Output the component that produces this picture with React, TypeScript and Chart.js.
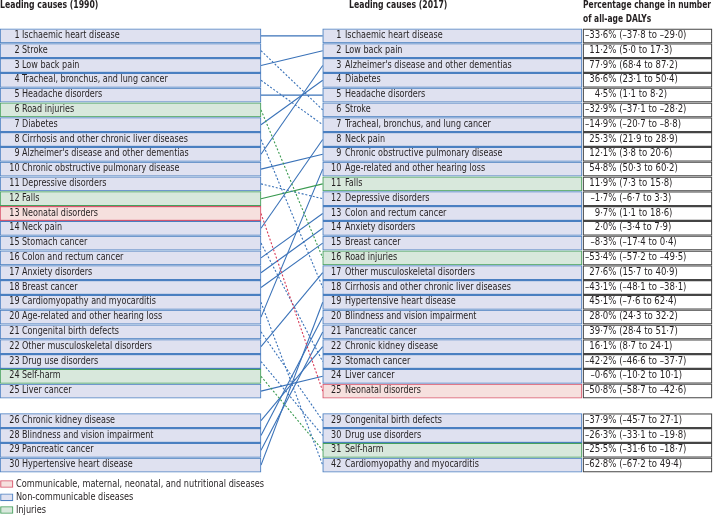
import React, { useEffect, useRef } from "react";
import { Chart, registerables } from "chart.js";

Chart.register(...registerables);

// ---------------- data ----------------
const causes1990 = [
  "Ischaemic heart disease",
  "Stroke",
  "Low back pain",
  "Tracheal, bronchus, and lung cancer",
  "Headache disorders",
  "Road injuries",
  "Diabetes",
  "Cirrhosis and other chronic liver diseases",
  "Alzheimer's disease and other dementias",
  "Chronic obstructive pulmonary disease",
  "Depressive disorders",
  "Falls",
  "Neonatal disorders",
  "Neck pain",
  "Stomach cancer",
  "Colon and rectum cancer",
  "Anxiety disorders",
  "Breast cancer",
  "Cardiomyopathy and myocarditis",
  "Age-related and other hearing loss",
  "Congenital birth defects",
  "Other musculoskeletal disorders",
  "Drug use disorders",
  "Self-harm",
  "Liver cancer",
  "Chronic kidney disease",
  "Blindness and vision impairment",
  "Pancreatic cancer",
  "Hypertensive heart disease",
];
const ranks1990 = [
  1, 2, 3, 4, 5, 6, 7, 8, 9, 10, 11, 12, 13, 14, 15, 16, 17, 18, 19, 20, 21,
  22, 23, 24, 25, 26, 28, 29, 30,
];

const causes2017 = [
  "Ischaemic heart disease",
  "Low back pain",
  "Alzheimer's disease and other dementias",
  "Diabetes",
  "Headache disorders",
  "Stroke",
  "Tracheal, bronchus, and lung cancer",
  "Neck pain",
  "Chronic obstructive pulmonary disease",
  "Age-related and other hearing loss",
  "Falls",
  "Depressive disorders",
  "Colon and rectum cancer",
  "Anxiety disorders",
  "Breast cancer",
  "Road injuries",
  "Other musculoskeletal disorders",
  "Cirrhosis and other chronic liver diseases",
  "Hypertensive heart disease",
  "Blindness and vision impairment",
  "Pancreatic cancer",
  "Chronic kidney disease",
  "Stomach cancer",
  "Liver cancer",
  "Neonatal disorders",
  "Congenital birth defects",
  "Drug use disorders",
  "Self-harm",
  "Cardiomyopathy and myocarditis",
];
const ranks2017 = [
  1, 2, 3, 4, 5, 6, 7, 8, 9, 10, 11, 12, 13, 14, 15, 16, 17, 18, 19, 20, 21,
  22, 23, 24, 25, 29, 30, 31, 42,
];

const pctChange = [
  "–33·6% (–37·8 to –29·0)",
  "11·2% (5·0 to 17·3)",
  "77·9% (68·4 to 87·2)",
  "36·6% (23·1 to 50·4)",
  "4·5% (1·1 to 8·2)",
  "–32·9% (–37·1 to –28·2)",
  "–14·9% (–20·7 to –8·8)",
  "25·3% (21·9 to 28·9)",
  "12·1% (3·8 to 20·6)",
  "54·8% (50·3 to 60·2)",
  "11·9% (7·3 to 15·8)",
  "–1·7% (–6·7 to 3·3)",
  "9·7% (1·1 to 18·6)",
  "2·0% (–3·4 to 7·9)",
  "–8·3% (–17·4 to 0·4)",
  "–53·4% (–57·2 to –49·5)",
  "27·6% (15·7 to 40·9)",
  "–43·1% (–48·1 to –38·1)",
  "45·1% (–7·6 to 62·4)",
  "28·0% (24·3 to 32·2)",
  "39·7% (28·4 to 51·7)",
  "16·1% (8·7 to 24·1)",
  "–42·2% (–46·6 to –37·7)",
  "–0·6% (–10·2 to 10·1)",
  "–50·8% (–58·7 to –42·6)",
  "–37·9% (–45·7 to 27·1)",
  "–26·3% (–33·1 to –19·8)",
  "–25·5% (–31·6 to –18·7)",
  "–62·8% (–67·2 to 49·4)",
];

const communicableCauses = ["Neonatal disorders"];
const injuryCauses = ["Road injuries", "Falls", "Self-harm"];

const legendLabels = [
  "Communicable, maternal, neonatal, and nutritional diseases",
  "Non-communicable diseases",
  "Injuries",
];
const legendGroups = ["cmnn", "ncd", "inj"];

const header1990 = "Leading causes (1990)";
const header2017 = "Leading causes (2017)";
const headerPct = ["Percentage change in number", "of all-age DALYs"];

// ---------------- layout / style ----------------
const W = 713;
const H = 517;
const ROW_PITCH = 14.8;
const ROW0 = 35.9; // pixel centre of first row
const TEXT_DY = -0.5;
const COL1 = [0, 261];
const COL2 = [322.7, 582];
const COL3 = [583, 712];
const BOX_H = 14.2;
const FONT = "'Liberation Sans Narrow', 'Arial Narrow', 'DejaVu Sans Condensed', sans-serif";
const TEXT_COLOR = "#231f20";
const SX_NAME = 0.895;
const SX_PCT = 0.95;
const SX_LEGEND = 0.91;
const SX_HEAD = 0.86;
const PCT_HEAD_WIDTH = 128;

const palette: Record<string, { fill: string; border: string; line: string }> = {
  cmnn: { fill: "#f6e0de", border: "#d9546b", line: "#d83a57" },
  ncd: { fill: "#dfe1f0", border: "#4a7fc1", line: "#3a72b8" },
  inj: { fill: "#d8e8dc", border: "#46a05d", line: "#3a9a50" },
};

const groupOf = (c: string) =>
  communicableCauses.includes(c) ? "cmnn" : injuryCauses.includes(c) ? "inj" : "ncd";
// list index -> row slot (one blank slot after the 25th row)
const slotOf = (i: number) => (i < 25 ? i : i + 1);
const pxToSlot = (px: number) => (px - ROW0) / ROW_PITCH;

function drawText(
  ctx: CanvasRenderingContext2D,
  text: string,
  x: number,
  y: number,
  align: CanvasTextAlign,
  sx: number
) {
  ctx.save();
  ctx.translate(x, y);
  ctx.scale(sx, 1);
  ctx.textAlign = align;
  ctx.fillText(text, 0, 0);
  ctx.restore();
}

export default function App() {
  const ref = useRef<HTMLCanvasElement | null>(null);

  useEffect(() => {
    document.body.style.margin = "0";
    const canvas = ref.current;
    if (!canvas) return;

    const barBase = {
      type: "bar" as const,
      indexAxis: "y" as const,
      borderSkipped: false,
      barThickness: BOX_H,
      grouped: false,
      order: 1,
    };
    const leftBars = {
      ...barBase,
      data: causes1990.map((c, i) => ({ x: [COL1[0], COL1[1]], y: slotOf(i) })),
      backgroundColor: causes1990.map((c) => palette[groupOf(c)].fill),
      borderColor: causes1990.map((c) => palette[groupOf(c)].border),
      borderWidth: 1.1,
    };
    const midBars = {
      ...barBase,
      data: causes2017.map((c, i) => ({ x: [COL2[0], COL2[1]], y: slotOf(i) })),
      backgroundColor: causes2017.map((c) => palette[groupOf(c)].fill),
      borderColor: causes2017.map((c) => palette[groupOf(c)].border),
      borderWidth: 1.1,
    };
    const rightBars = {
      ...barBase,
      data: pctChange.map((p, i) => ({ x: [COL3[0], COL3[1]], y: slotOf(i) })),
      backgroundColor: "#ffffff",
      borderColor: "#454545",
      borderWidth: 1.2,
    };
    const legendSlots = [pxToSlot(484), pxToSlot(497.3), pxToSlot(510)];
    const legendBars = {
      ...barBase,
      data: legendLabels.map((l, i) => ({ x: [0.5, 13], y: legendSlots[i] })),
      backgroundColor: legendGroups.map((g) => palette[g].fill),
      borderColor: legendGroups.map((g) => palette[g].border),
      borderWidth: 1.1,
      barThickness: 7,
    };

    const lineSets = causes1990.map((c, i) => {
      const j = causes2017.indexOf(c);
      const fell = ranks2017[j] > ranks1990[i];
      return {
        type: "line" as const,
        indexAxis: "x" as const,
        data: [
          { x: COL1[1], y: slotOf(i) },
          { x: COL2[0], y: slotOf(j) },
        ],
        borderColor: palette[groupOf(c)].line,
        borderWidth: 1.1,
        borderDash: fell ? [2, 1.8] : [],
        pointRadius: 0,
        fill: false,
        tension: 0,
        order: 2,
      };
    });

    const textPlugin = {
      id: "rankText",
      afterDatasetsDraw(chart: any) {
        const { ctx } = chart;
        const xs = chart.scales.x;
        const ys = chart.scales.y;
        ctx.save();
        ctx.fillStyle = TEXT_COLOR;
        ctx.textBaseline = "middle";
        ctx.font = `10px ${FONT}`;

        causes1990.forEach((c, i) => {
          const y = ys.getPixelForValue(slotOf(i)) + TEXT_DY;
          drawText(ctx, String(ranks1990[i]), xs.getPixelForValue(19.6), y, "right", SX_NAME);
          drawText(ctx, c, xs.getPixelForValue(22), y, "left", SX_NAME);
        });
        causes2017.forEach((c, i) => {
          const y = ys.getPixelForValue(slotOf(i)) + TEXT_DY;
          drawText(ctx, String(ranks2017[i]), xs.getPixelForValue(341.3), y, "right", SX_NAME);
          drawText(ctx, c, xs.getPixelForValue(345), y, "left", SX_NAME);
        });
        const firstEnd = COL3[0] + 2 + ctx.measureText("–33·6%").width * SX_PCT;
        pctChange.forEach((p, i) => {
          const y = ys.getPixelForValue(slotOf(i)) + TEXT_DY;
          const k = p.indexOf(" ");
          drawText(ctx, p.slice(0, k), xs.getPixelForValue(firstEnd), y, "right", SX_PCT);
          drawText(ctx, p.slice(k), xs.getPixelForValue(firstEnd), y, "left", SX_PCT);
        });

        // legend
        legendLabels.forEach((l, i) => {
          drawText(ctx, l, xs.getPixelForValue(16), ys.getPixelForValue(legendSlots[i]), "left", SX_LEGEND);
        });

        // headers
        ctx.font = `bold 10px ${FONT}`;
        drawText(ctx, header1990, xs.getPixelForValue(0), ys.getPixelForValue(pxToSlot(5.6)), "left", SX_HEAD);
        drawText(ctx, header2017, xs.getPixelForValue(349), ys.getPixelForValue(pxToSlot(5.6)), "left", SX_HEAD);
        const sxPct = Math.min(SX_HEAD, PCT_HEAD_WIDTH / ctx.measureText(headerPct[0]).width);
        drawText(ctx, headerPct[0], xs.getPixelForValue(583), ys.getPixelForValue(pxToSlot(5.8)), "left", sxPct);
        drawText(ctx, headerPct[1], xs.getPixelForValue(583), ys.getPixelForValue(pxToSlot(19.6)), "left", sxPct);
        ctx.restore();
      },
    };

    const yMin = pxToSlot(0);
    const yMax = pxToSlot(H);

    const chart = new Chart(canvas, {
      type: "bar",
      data: {
        datasets: [leftBars, midBars, rightBars, legendBars, ...lineSets] as any,
      },
      options: {
        responsive: false,
        animation: false,
        maintainAspectRatio: false,
        layout: { padding: 0 },
        plugins: {
          legend: { display: false },
          tooltip: { enabled: false },
        },
        scales: {
          x: {
            type: "linear",
            min: 0,
            max: W,
            display: false,
            offset: false,
            grid: { offset: false },
          },
          y: {
            type: "linear",
            min: yMin,
            max: yMax,
            reverse: true,
            display: false,
            offset: false,
            grid: { offset: false },
          },
        },
      } as any,
      plugins: [textPlugin],
    });

    return () => chart.destroy();
  }, []);

  return (
    <div style={{ width: W, height: H }}>
      <canvas ref={ref} width={W} height={H} style={{ display: "block" }} />
    </div>
  );
}
